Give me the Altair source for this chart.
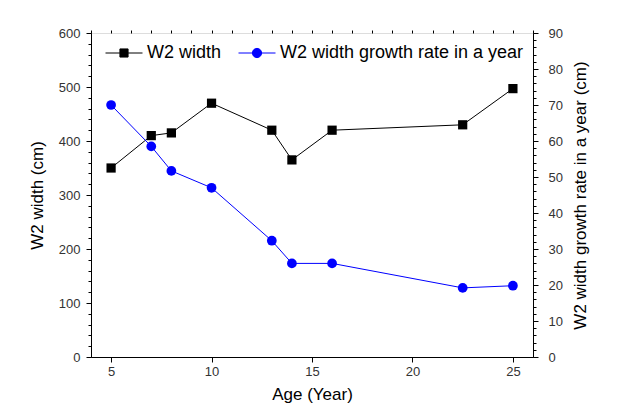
import altair as alt
import pandas as pd

ages = [5, 7, 8, 10, 13, 14, 16, 22.5, 25]
w2_width = [350, 410, 415, 470, 420, 365, 420, 430, 497]
growth_rate = [70, 58.5, 51.7, 47, 32.3, 26, 26, 19.2, 19.8]
series_names = ["W2 width", "W2 width growth rate in a year"]
x_major = [5, 10, 15, 20, 25]
x_minor = list(range(4, 27))
yl_major = list(range(0, 601, 100))
yl_minor = list(range(0, 601, 20))
yr_major = list(range(0, 91, 10))
yr_minor = list(range(0, 91, 2))

df_w = pd.DataFrame({"age": ages, "val": w2_width})
df_g = pd.DataFrame({"age": ages, "val": growth_rate})

FONT = "Liberation Sans"
xscale = alt.Scale(domain=[4, 26], nice=False, zero=False)
yl_scale = alt.Scale(domain=[0, 600], nice=False)
yr_scale = alt.Scale(domain=[0, 90], nice=False)
color_scale = alt.Scale(domain=series_names, range=["black", "blue"])

sq = "M-1,0H-0.22M0.22,0H1M-0.22,-0.22H0.22V0.22H-0.22Z"
ci = "M-1,0H-0.25M0.25,0H1M-0.25,0A0.25,0.25 0 1,0 0.25,0A0.25,0.25 0 1,0 -0.25,0Z"
legend_shape_scale = alt.Scale(domain=series_names, range=[sq, ci])

legend = alt.Legend(
    title=None, orient="none", legendX=14, legendY=1, direction="horizontal",
    symbolSize=1369, labelFontSize=18, labelFont=FONT, labelColor="black",
    columnPadding=14, labelOffset=4, padding=0, symbolStrokeWidth=1, symbolOpacity=1,
    labelLimit=400,
)

ax_common = dict(domainColor="black", tickColor="black", labelColor="#333",
                 labelFont=FONT, titleFont=FONT, labelFontSize=13, titleFontSize=17,
                 titleFontWeight="normal", titleColor="black", grid=False, tickSize=5)

x_axis = alt.Axis(values=x_major, title="Age (Year)", labelPadding=3, titlePadding=8, **ax_common)
x_minor_axis = alt.Axis(values=x_minor, labels=False, domain=False, tickSize=3, grid=False,
                        title=None, tickColor="black")
yl_axis = alt.Axis(values=yl_major, title="W2 width (cm)", orient="left", labelPadding=6,
                   titlePadding=12, **ax_common)
yl_minor_axis = alt.Axis(values=yl_minor, orient="left", labels=False, domain=False, tickSize=3,
                         grid=False, title=None, tickColor="black")
yr_axis = alt.Axis(values=yr_major, title="W2 width growth rate in a year (cm)", orient="right",
                   labelPadding=10, titlePadding=10, titleAngle=270, titleBaseline="top",
                   **ax_common)
yr_minor_axis = alt.Axis(values=yr_minor, orient="right", labels=False, domain=False, tickSize=3,
                         grid=False, title=None, tickColor="black")

bw = alt.Chart(df_w)
w_line = bw.mark_line(color="black", strokeWidth=1).encode(
    x=alt.X("age:Q", scale=xscale, axis=x_axis),
    y=alt.Y("val:Q", scale=yl_scale, axis=yl_axis))
w_pts = bw.mark_square(size=85, opacity=1, color="black").encode(
    x=alt.X("age:Q", scale=xscale, axis=None),
    y=alt.Y("val:Q", scale=yl_scale, axis=None))
w_minor = bw.mark_point(opacity=0).encode(
    x=alt.X("age:Q", scale=xscale, axis=x_minor_axis),
    y=alt.Y("val:Q", scale=yl_scale, axis=yl_minor_axis))
left = alt.layer(w_line, w_pts, w_minor).resolve_axis(x="independent", y="independent")

bg = alt.Chart(df_g)
g_line = bg.mark_line(color="blue", strokeWidth=1).encode(
    x=alt.X("age:Q", scale=xscale, axis=None),
    y=alt.Y("val:Q", scale=yr_scale, axis=yr_axis))
g_pts = bg.mark_circle(size=95, opacity=1, color="blue").encode(
    x=alt.X("age:Q", scale=xscale, axis=None),
    y=alt.Y("val:Q", scale=yr_scale, axis=None))
g_minor = bg.mark_point(opacity=0).encode(
    x=alt.X("age:Q", scale=xscale, axis=None),
    y=alt.Y("val:Q", scale=yr_scale, axis=yr_minor_axis))
right = alt.layer(g_line, g_pts, g_minor).resolve_axis(y="independent")

legend_layer = alt.Chart(alt.Data(values=[])).mark_point(filled=True, opacity=1).encode(
    shape=alt.Shape("series:N", scale=legend_shape_scale, legend=legend),
    fill=alt.Fill("series:N", scale=color_scale, legend=legend),
    stroke=alt.Stroke("series:N", scale=color_scale, legend=legend),
)

chart = alt.layer(left, right, legend_layer).resolve_scale(y="independent").properties(
    width=442, height=324,
    autosize=alt.AutoSizeParams(type="none"),
    padding={"left": 83, "top": 25, "right": 88, "bottom": 46},
).configure_view(stroke="#666", strokeWidth=1).configure(background="white")

chart.save("out.html", embed_options={"renderer": "svg", "actions": False})
